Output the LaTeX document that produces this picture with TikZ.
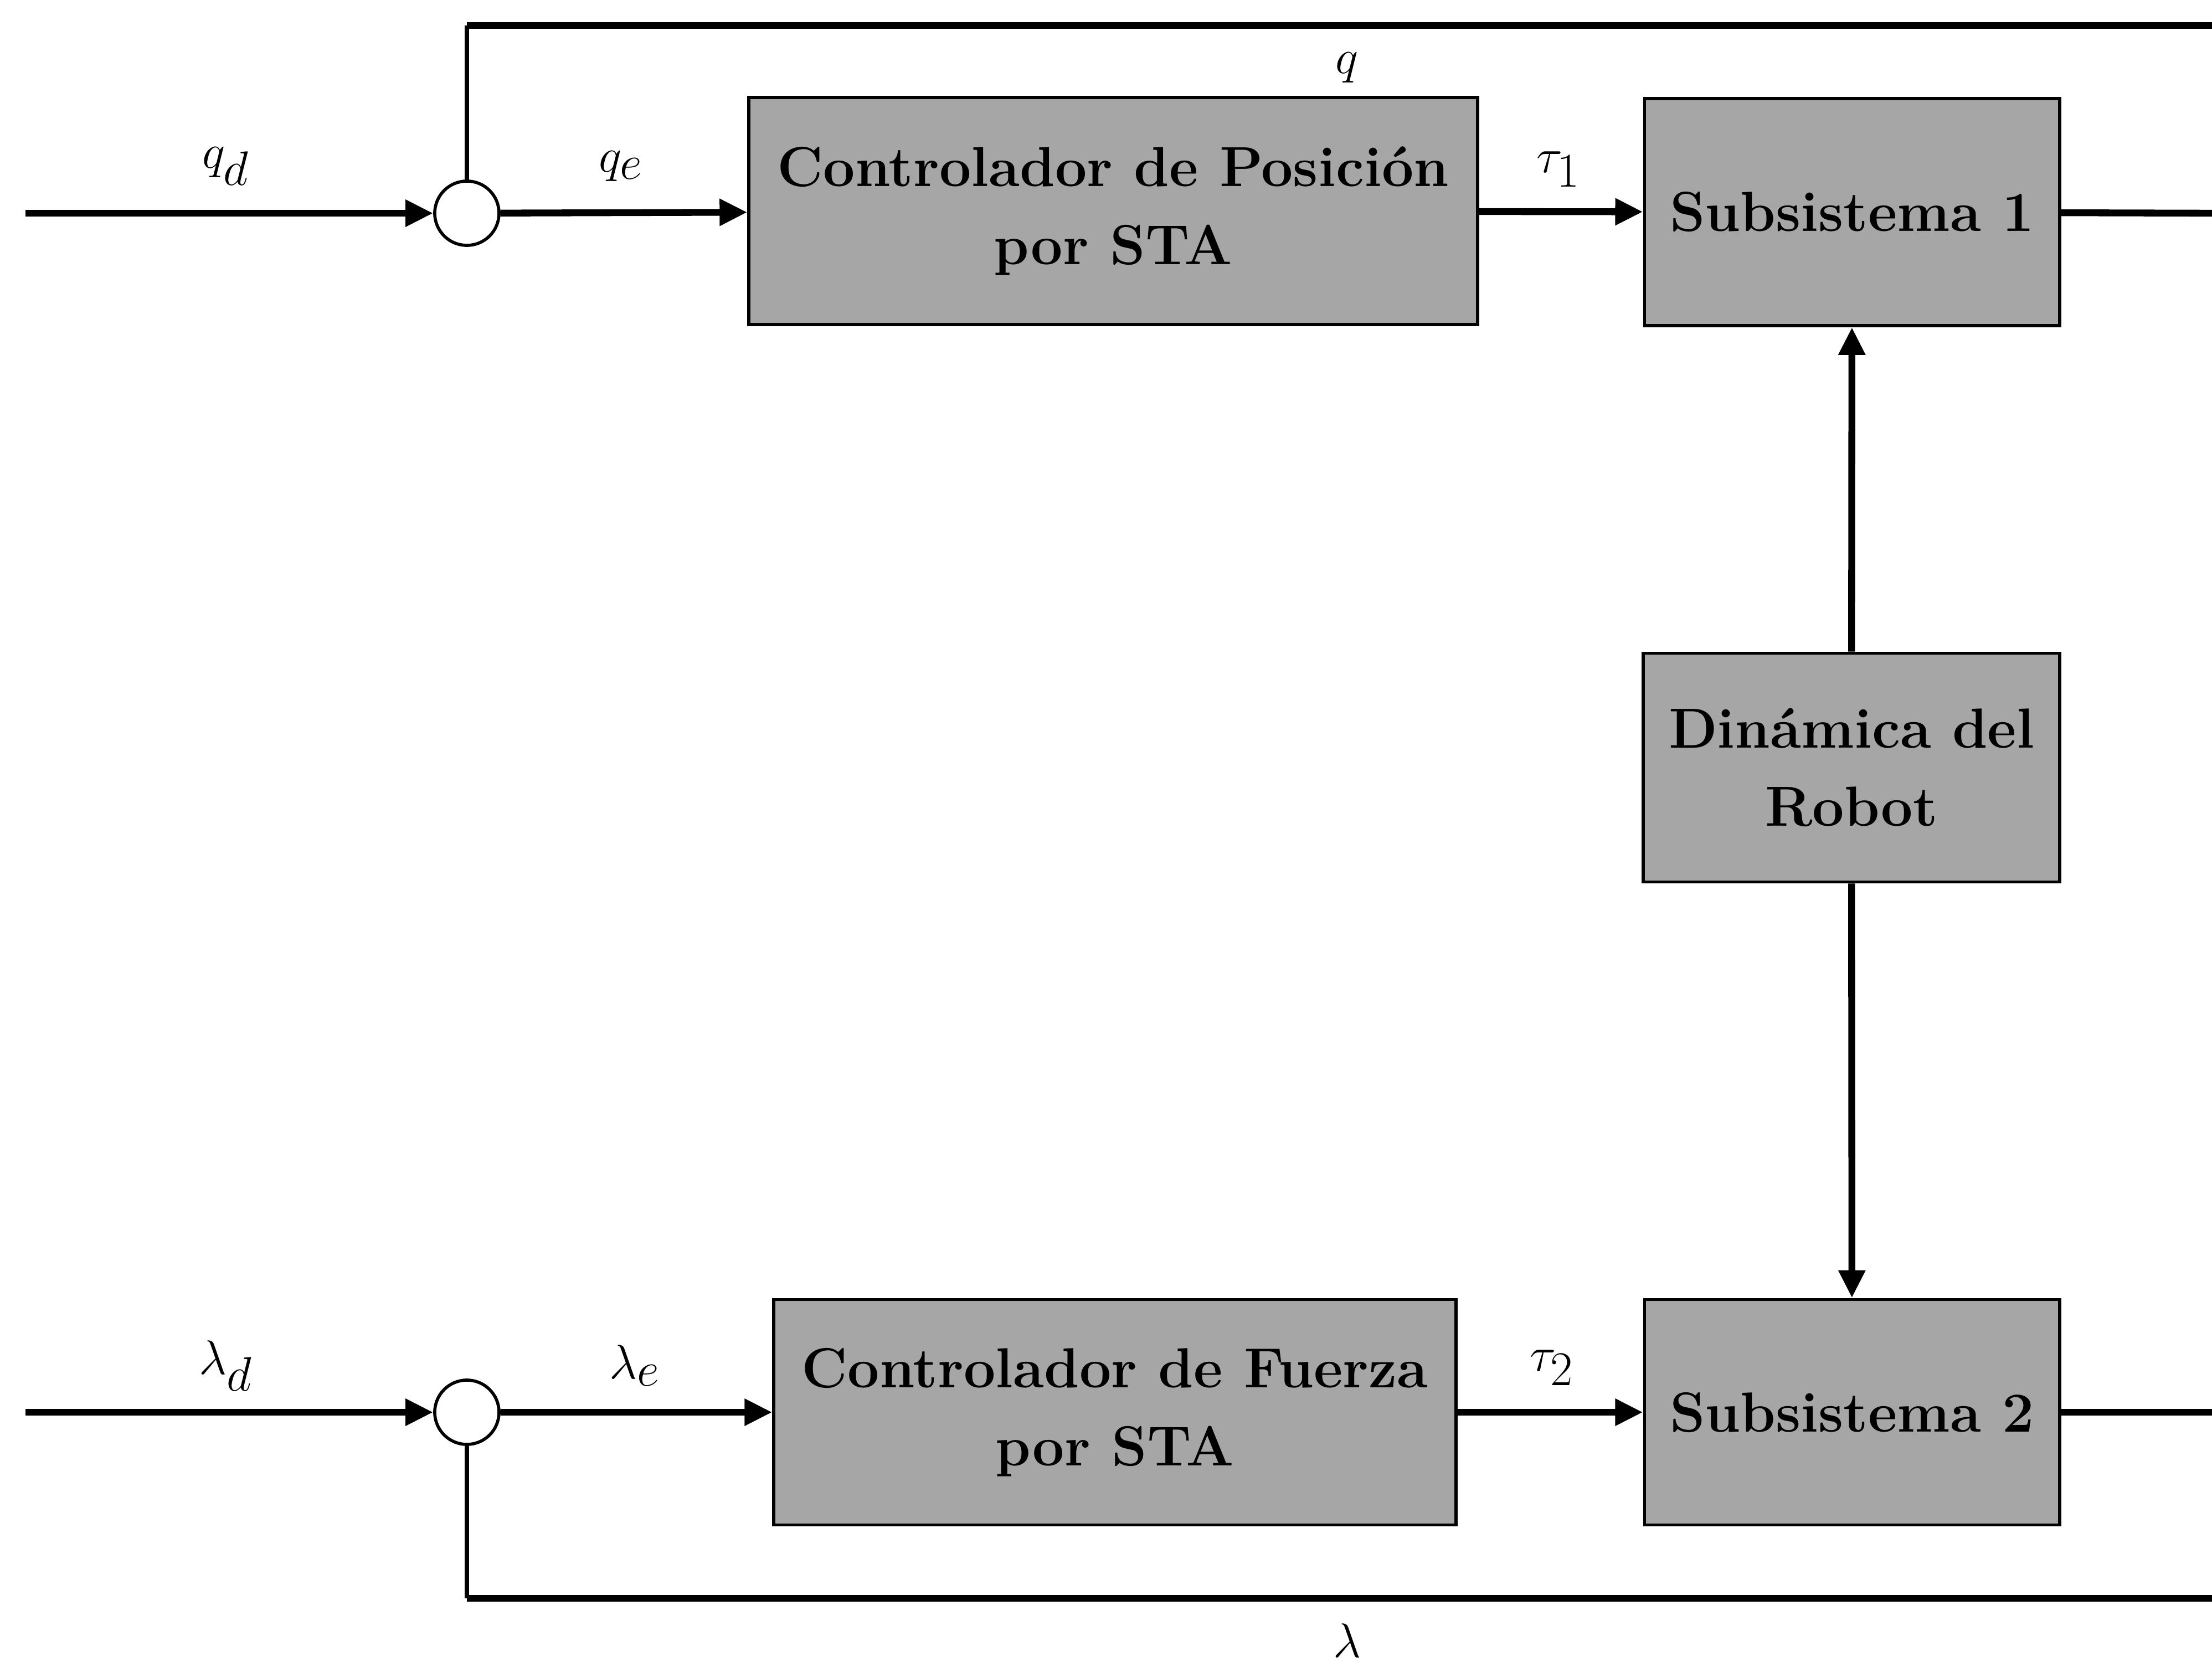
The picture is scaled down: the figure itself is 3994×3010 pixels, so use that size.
\documentclass[tikz,border=0pt]{standalone}
\usetikzlibrary{arrows.meta}
\begin{document}
\begin{tikzpicture}[x=0.01cm,y=-0.01cm,
  blk/.style={draw=black,line width=1.6pt,fill=black!35,inner sep=0pt,align=center,
    font=\fontsize{29}{40}\selectfont\bfseries},
  sumc/.style={draw=black,line width=1.6pt,fill=white,circle,minimum size=1.16cm,inner sep=0pt},
  sig/.style={line width=3.5pt,-{Triangle[length=0.5cm,width=0.46cm]}},
  wire/.style={line width=3.5pt},
  fb/.style={line width=2.2pt},
  lbl/.style={font=\fontsize{33}{40}\selectfont,inner sep=0pt}]
\useasboundingbox (0,0) rectangle (3994,3010);
% blocks
\node[blk,minimum width=13.15cm,minimum height=4.10cm] (c1) at (2010,381) {Controlador de Posición\\por STA};
\node[blk,minimum width=7.49cm,minimum height=4.10cm] (s1) at (3344,383) {Subsistema 1};
\node[blk,minimum width=7.52cm,minimum height=4.13cm] (dr) at (3343,1386) {Dinámica del\\Robot};
\node[blk,minimum width=7.49cm,minimum height=4.07cm] (s2) at (3344,2550) {Subsistema 2};
\node[blk,minimum width=12.31cm,minimum height=4.07cm] (c2) at (2013,2550) {Controlador de Fuerza\\por STA};
% summing junctions
\node[sumc] (j1) at (843,385) {};
\node[sumc] (j2) at (843,2550) {};
% free ends
\coordinate (in1) at (46,385);
\coordinate (in2) at (46,2550);
\coordinate (o1) at (4000,385);
\coordinate (o2) at (4000,2550);
\coordinate (t1) at (843,46);
\coordinate (t2) at (4000,46);
\coordinate (b1) at (843,2886);
\coordinate (b2) at (4000,2886);
% connectors
\draw[sig] (in1) -- (j1);
\draw[sig] (j1) -- (c1);
\draw[sig] (c1) -- (s1);
\draw[wire] (s1) -- (o1);
\draw[sig] (in2) -- (j2);
\draw[sig] (j2) -- (c2);
\draw[sig] (c2) -- (s2);
\draw[wire] (s2) -- (o2);
\draw[sig] (dr) -- (s1);
\draw[sig] (dr) -- (s2);
\draw[fb] (j1.north) -- (t1);
\draw[wire] (t1) -- (t2);
\draw[fb] (j2.south) -- (b1);
\draw[wire] (b1) -- (b2);
% labels
\node[lbl] (lqd) at (408,300) {$q_d$};
\node[lbl] (lqe) at (1121,300) {$q_e$};
\node[lbl] (lq) at (2432,122) {$q$};
\node[lbl] (lt1) at (2814,306) {$\tau_1$};
\node[lbl] (lld) at (408,2466) {$\lambda_d$};
\node[lbl] (lle) at (1146,2466) {$\lambda_e$};
\node[lbl] (lt2) at (2802,2470) {$\tau_2$};
\node[lbl] (ll) at (2432,2962) {$\lambda$};
\end{tikzpicture}
\end{document}
